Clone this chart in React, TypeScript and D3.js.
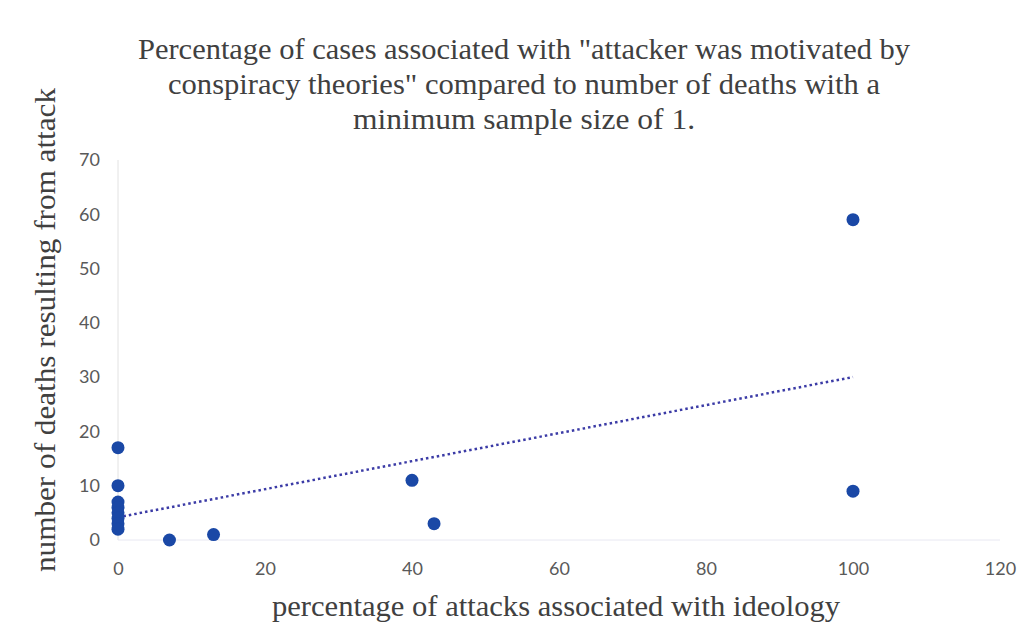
import React, { useRef, useEffect } from "react";
import * as d3 from "d3";

// % of attacks associated with ideology vs deaths
const pctIdeology = [0, 0, 0, 0, 0, 0, 0, 0, 7, 13, 40, 43, 100, 100];
const deaths = [17, 10, 7, 6, 5, 4, 3, 2, 0, 1, 11, 3, 59, 9];
const xTicks = [0, 20, 40, 60, 80, 100, 120];
const yTicks = [0, 10, 20, 30, 40, 50, 60, 70];
const titleLines = [
  'Percentage of cases associated with "attacker was motivated by',
  'conspiracy theories" compared to number of deaths with a',
  "minimum sample size of 1.",
];

const W = 1019;
const H = 627;
const serif = "'Liberation Serif', 'Times New Roman', Times, serif";
const sans = "Lato, 'Open Sans', sans-serif";

const App: React.FC = () => {
  const svgRef = useRef<SVGSVGElement | null>(null);

  useEffect(() => {
    if (!svgRef.current) return;
    const svg = d3.select(svgRef.current);
    svg.selectAll("*").remove();

    const x = d3.scaleLinear().domain([0, 120]).range([118, 1000]);
    const y = d3.scaleLinear().domain([0, 70]).range([540, 160]);

    svg.append("rect").attr("width", W).attr("height", H).attr("fill", "#fff");

    // title
    const titleW = [772, 712, 342];
    svg
      .append("g")
      .selectAll("text")
      .data(titleLines)
      .join("text")
      .attr("x", 524)
      .attr("y", (_, i) => 59 + i * 35)
      .attr("text-anchor", "middle")
      .attr("font-family", serif)
      .attr("font-size", 29)
      .attr("fill", "#404040")
      .attr("textLength", (_, i) => titleW[i])
      .attr("lengthAdjust", "spacingAndGlyphs")
      .text((d) => d);

    // faint axis lines
    svg
      .append("line")
      .attr("x1", x(0))
      .attr("x2", x(0))
      .attr("y1", y(70))
      .attr("y2", y(0))
      .attr("stroke", "#e2e2e2");
    svg
      .append("line")
      .attr("x1", x(0))
      .attr("x2", x(120))
      .attr("y1", y(0))
      .attr("y2", y(0))
      .attr("stroke", "#e8e8f2");

    const yAxis = d3.axisLeft(y).tickValues(yTicks).tickSize(0).tickPadding(18);
    const gy = svg
      .append("g")
      .attr("transform", `translate(${x(0)},0)`)
      .call(yAxis);
    gy.select(".domain").remove();
    gy.selectAll("text")
      .attr("fill", "#595959")
      .attr("font-size", 18)
      .attr("font-family", sans);

    const xAxis = d3.axisBottom(x).tickValues(xTicks).tickSize(0).tickPadding(22);
    const gx = svg
      .append("g")
      .attr("transform", `translate(0,${y(0)})`)
      .call(xAxis);
    gx.select(".domain").remove();
    gx.selectAll("text")
      .attr("fill", "#595959")
      .attr("font-size", 18)
      .attr("font-family", sans);

    // axis titles
    svg
      .append("text")
      .attr("x", 556)
      .attr("y", 616)
      .attr("text-anchor", "middle")
      .attr("font-family", serif)
      .attr("font-size", 29)
      .attr("fill", "#404040")
      .attr("textLength", 568)
      .attr("lengthAdjust", "spacingAndGlyphs")
      .text("percentage of attacks associated with ideology");

    svg
      .append("text")
      .attr("transform", "translate(55,330) rotate(-90)")
      .attr("text-anchor", "middle")
      .attr("font-family", serif)
      .attr("font-size", 29)
      .attr("fill", "#404040")
      .attr("textLength", 484)
      .attr("lengthAdjust", "spacingAndGlyphs")
      .text("number of deaths resulting from attack");

    // linear trendline (least squares)
    const mx = d3.mean(pctIdeology) as number;
    const my = d3.mean(deaths) as number;
    const sxy = d3.sum(pctIdeology, (v, i) => (v - mx) * (deaths[i] - my));
    const sxx = d3.sum(pctIdeology, (v) => (v - mx) ** 2);
    const slope = sxy / sxx;
    const icpt = my - slope * mx;
    const xMin = d3.min(pctIdeology) as number;
    const xMax = d3.max(pctIdeology) as number;

    svg
      .append("line")
      .attr("x1", x(xMin))
      .attr("y1", y(icpt + slope * xMin))
      .attr("x2", x(xMax))
      .attr("y2", y(icpt + slope * xMax))
      .attr("stroke", "#3b3ba6")
      .attr("stroke-width", 2.5)
      .attr("stroke-dasharray", "2.5 3");

    svg
      .append("g")
      .selectAll("circle")
      .data(pctIdeology)
      .join("circle")
      .attr("cx", (d) => x(d))
      .attr("cy", (_, i) => y(deaths[i]))
      .attr("r", 6.5)
      .attr("fill", "#1a48a6");
  }, []);

  return (
    <div style={{ position: "absolute", left: 0, top: 0 }}>
      <svg ref={svgRef} width={W} height={H} style={{ display: "block" }} />
    </div>
  );
};

export default App;
